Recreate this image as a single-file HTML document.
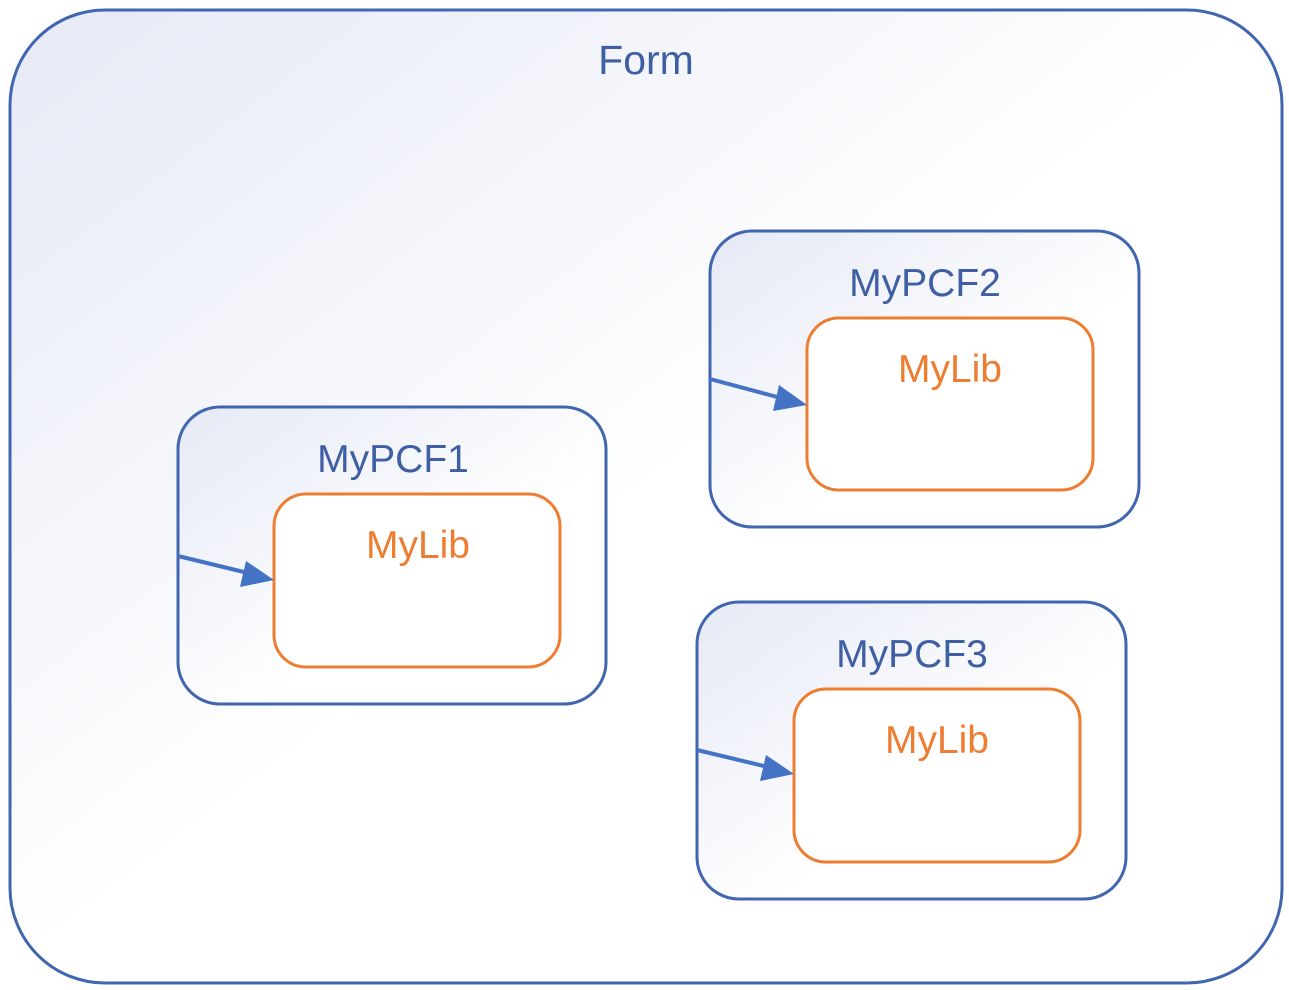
<!DOCTYPE html>
<html><head><meta charset="utf-8"><style>html,body{margin:0;padding:0;background:#fff}svg{display:block}</style></head><body>
<svg width="1289" height="990" viewBox="0 0 1289 990" xmlns="http://www.w3.org/2000/svg" font-family="'Liberation Sans', sans-serif">
<defs>
<linearGradient id="g" x1="0" y1="0" x2="1" y2="1"><stop offset="0" stop-color="#e6e9f5"/><stop offset="0.5" stop-color="#ffffff"/></linearGradient>
<linearGradient id="g2" x1="0" y1="0" x2="1" y2="1"><stop offset="0" stop-color="#e6e9f5"/><stop offset="0.6" stop-color="#ffffff"/></linearGradient>
</defs>
<rect x="10" y="10" width="1272" height="973" rx="95" fill="url(#g)" stroke="#4066b0" stroke-width="3"/>
<text x="646" y="74" font-size="41" fill="#3f5fa5" text-anchor="middle">Form</text>
<g stroke-width="3">
<rect x="178" y="407" width="428" height="297" rx="42" fill="url(#g2)" stroke="#4066b0"/>
<rect x="274" y="494" width="286" height="173" rx="32" fill="#fff" stroke="#ed7d31"/>
<rect x="710" y="231" width="429" height="296" rx="42" fill="url(#g2)" stroke="#4066b0"/>
<rect x="807" y="318" width="286" height="172" rx="32" fill="#fff" stroke="#ed7d31"/>
<rect x="697" y="602" width="429" height="297" rx="42" fill="url(#g2)" stroke="#4066b0"/>
<rect x="794" y="689" width="286" height="173" rx="32" fill="#fff" stroke="#ed7d31"/>
</g>
<g font-size="39" text-anchor="middle">
<text x="393" y="472" fill="#3f5fa5">MyPCF1</text>
<text x="418" y="558" fill="#ed7d31">MyLib</text>
<text x="925" y="296" fill="#3f5fa5">MyPCF2</text>
<text x="950" y="382" fill="#ed7d31">MyLib</text>
<text x="912" y="667" fill="#3f5fa5">MyPCF3</text>
<text x="937" y="753" fill="#ed7d31">MyLib</text>
</g>
<g stroke="#4472c4" stroke-width="4" fill="#4472c4">
<line x1="178" y1="556" x2="248" y2="573"/>
<polygon points="274,580 240,587 246,561" stroke="none"/>
<line x1="710" y1="379" x2="781" y2="398"/>
<polygon points="807,405 773,411 779,385" stroke="none"/>
<line x1="697" y1="750" x2="768" y2="767"/>
<polygon points="794,774 760,781 766,755" stroke="none"/>
</g>
</svg>
</body></html>
